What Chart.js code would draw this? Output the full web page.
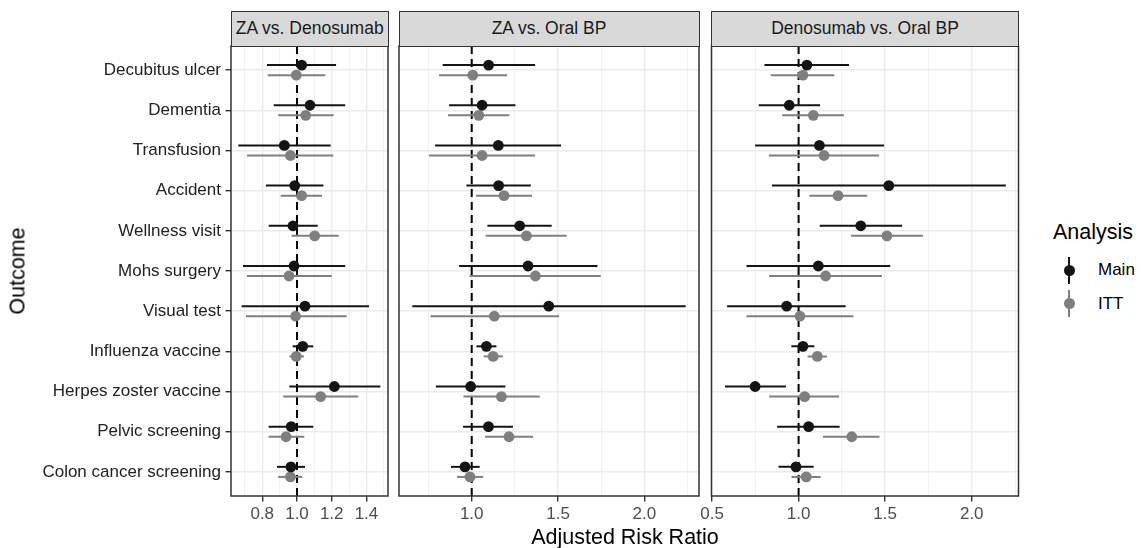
<!DOCTYPE html>
<html>
<head>
<meta charset="utf-8">
<script src="https://cdn.jsdelivr.net/npm/chart.js@4.4.1/dist/chart.umd.min.js"></script>
<style>
  body { margin: 0; background: #fff; font-family: "Liberation Sans", Arial, sans-serif; }
  #wrap { position: relative; width: 1144px; height: 548px; overflow: hidden; }
  canvas { position: absolute; top: 26px; }
  .strip { position: absolute; top: 11px; height: 35.5px; box-sizing: border-box;
           background: #d9d9d9; border: 1.5px solid #333; color: #1a1a1a; font-size: 17.5px;
           display: flex; align-items: center; justify-content: center; white-space: nowrap; }
  .lbl { position: absolute; white-space: nowrap; color: #000; }
  .key-line { position: absolute; width: 2px; height: 27px; }
  .key-dot { position: absolute; width: 11px; height: 11px; border-radius: 50%; }
</style>
</head>
<body>
<div id="wrap">
  <canvas id="c1" width="400" height="522" style="left:0px"></canvas>
  <canvas id="c2" width="320" height="522" style="left:390px"></canvas>
  <canvas id="c3" width="340" height="522" style="left:690px"></canvas>

  <div class="strip" style="left:231px;width:157.5px">ZA vs. Denosumab</div>
  <div class="strip" style="left:398.5px;width:301px">ZA vs. Oral BP</div>
  <div class="strip" style="left:711px;width:308px">Denosumab vs. Oral BP</div>

  <div class="lbl" style="left:18px;top:271px;font-size:21.5px;transform:translate(-50%,-50%) rotate(-90deg)">Outcome</div>
  <div class="lbl" style="left:625px;top:537px;font-size:21.5px;transform:translate(-50%,-50%)">Adjusted Risk Ratio</div>

  <div class="lbl" style="left:1053px;top:232px;font-size:21.5px;transform:translateY(-50%)">Analysis</div>
  <div class="key-line" style="left:1068px;top:256.5px;background:#141414"></div>
  <div class="key-dot" style="left:1063.5px;top:264.5px;background:#141414"></div>
  <div class="lbl" style="left:1098px;top:270px;font-size:17px;transform:translateY(-50%)">Main</div>
  <div class="key-line" style="left:1068px;top:290px;background:#7f7f7f"></div>
  <div class="key-dot" style="left:1063.5px;top:298px;background:#7f7f7f"></div>
  <div class="lbl" style="left:1098px;top:303.5px;font-size:17px;transform:translateY(-50%)">ITT</div>
</div>

<script>
const categories = ['Decubitus ulcer', 'Dementia', 'Transfusion', 'Accident', 'Wellness visit',
  'Mohs surgery', 'Visual test', 'Influenza vaccine', 'Herpes zoster vaccine',
  'Pelvic screening', 'Colon cancer screening'];

// ZA vs. Denosumab
const zdMainEst = [1.027, 1.075, 0.927, 0.987, 0.977, 0.983, 1.046, 1.033, 1.215, 0.967, 0.965];
const zdMainLo  = [0.827, 0.866, 0.662, 0.821, 0.837, 0.689, 0.681, 0.975, 0.956, 0.837, 0.885];
const zdMainHi  = [1.225, 1.278, 1.194, 1.152, 1.119, 1.278, 1.415, 1.094, 1.480, 1.094, 1.046];
const zdIttEst  = [0.996, 1.050, 0.962, 1.027, 1.102, 0.954, 0.992, 0.996, 1.136, 0.937, 0.962];
const zdIttLo   = [0.831, 0.892, 0.712, 0.906, 0.969, 0.712, 0.706, 0.956, 0.921, 0.837, 0.891];
const zdIttHi   = [1.163, 1.211, 1.209, 1.144, 1.240, 1.200, 1.286, 1.040, 1.353, 1.042, 1.031];

// ZA vs. Oral BP
const zoMainEst = [1.098, 1.060, 1.154, 1.156, 1.278, 1.326, 1.446, 1.085, 0.994, 1.097, 0.961];
const zoMainLo  = [0.832, 0.869, 0.788, 0.969, 1.091, 0.927, 0.656, 1.027, 0.792, 0.950, 0.880];
const zoMainHi  = [1.367, 1.253, 1.517, 1.342, 1.463, 1.728, 2.239, 1.143, 1.195, 1.239, 1.046];
const zoIttEst  = [1.006, 1.041, 1.060, 1.187, 1.317, 1.369, 1.131, 1.124, 1.172, 1.216, 0.990];
const zoIttLo   = [0.811, 0.863, 0.753, 1.025, 1.081, 0.988, 0.761, 1.069, 0.952, 1.077, 0.915];
const zoIttHi   = [1.205, 1.218, 1.367, 1.349, 1.550, 1.747, 1.506, 1.181, 1.394, 1.355, 1.066];

// Denosumab vs. Oral BP
const doMainEst = [1.048, 0.946, 1.120, 1.521, 1.359, 1.114, 0.931, 1.025, 0.749, 1.058, 0.985];
const doMainLo  = [0.803, 0.770, 0.749, 0.846, 1.122, 0.699, 0.587, 0.958, 0.575, 0.876, 0.884];
const doMainHi  = [1.291, 1.124, 1.494, 2.197, 1.598, 1.529, 1.272, 1.091, 0.927, 1.237, 1.087];
const doIttEst  = [1.025, 1.085, 1.147, 1.228, 1.510, 1.156, 1.008, 1.108, 1.035, 1.307, 1.044];
const doIttLo   = [0.839, 0.905, 0.828, 1.062, 1.303, 0.830, 0.699, 1.052, 0.830, 1.141, 0.959];
const doIttHi   = [1.207, 1.262, 1.465, 1.396, 1.718, 1.481, 1.317, 1.164, 1.234, 1.467, 1.127];

// x ticks (all grid lines) and the labelled ones
const zdTicks = [0.7, 0.8, 0.9, 1.0, 1.1, 1.2, 1.3, 1.4, 1.5];
const zdMajor = [0.8, 1.0, 1.2, 1.4];
const zoTicks = [0.75, 1.0, 1.25, 1.5, 1.75, 2.0, 2.25];
const zoMajor = [1.0, 1.5, 2.0];
const doTicks = [0.5, 0.75, 1.0, 1.25, 1.5, 1.75, 2.0, 2.25];
const doMajor = [0.5, 1.0, 1.5, 2.0];

const MAIN = '#141414';
const ITT = '#7f7f7f';
const GRID = '#ebebeb';

Chart.defaults.font.family = '"Liberation Sans", Arial, sans-serif';

const panelBorder = {
  id: 'panelBorder',
  afterDraw(chart) {
    const a = chart.chartArea, c = chart.ctx;
    c.save();
    c.strokeStyle = '#333';
    c.lineWidth = 1.5;
    c.strokeRect(a.left, a.top, a.right - a.left, a.bottom - a.top);
    c.restore();
  }
};

function isMajor(v, majors) {
  return majors.some(m => Math.abs(m - v) < 1e-6);
}

function makeChart(id, p) {
  const datasets = [];
  datasets.push({
    data: [{ x: 1, y: 0.4 }, { x: 1, y: 11.6 }],
    showLine: true, borderColor: '#000', borderWidth: 2, borderDash: [8, 5],
    pointRadius: 0, order: 10
  });
  categories.forEach((c, i) => {
    datasets.push({
      data: [{ x: p.mainLo[i], y: i + 1 - 0.125 }, { x: p.mainHi[i], y: i + 1 - 0.125 }],
      showLine: true, borderColor: MAIN, borderWidth: 2, pointRadius: 0, order: 5
    });
    datasets.push({
      data: [{ x: p.ittLo[i], y: i + 1 + 0.125 }, { x: p.ittHi[i], y: i + 1 + 0.125 }],
      showLine: true, borderColor: ITT, borderWidth: 2, pointRadius: 0, order: 5
    });
  });
  datasets.push({
    data: p.mainEst.map((v, i) => ({ x: v, y: i + 1 - 0.125 })),
    backgroundColor: MAIN, borderWidth: 0, pointRadius: 5.4, order: 1
  });
  datasets.push({
    data: p.ittEst.map((v, i) => ({ x: v, y: i + 1 + 0.125 })),
    backgroundColor: ITT, borderWidth: 0, pointRadius: 5.4, order: 2
  });

  return new Chart(document.getElementById(id), {
    type: 'scatter',
    data: { datasets },
    plugins: [panelBorder],
    options: {
      responsive: false,
      animation: false,
      devicePixelRatio: 1,
      events: [],
      layout: { padding: p.padding },
      plugins: { legend: { display: false }, tooltip: { enabled: false } },
      scales: {
        x: {
          type: 'linear',
          min: p.min, max: p.max,
          afterBuildTicks: s => { s.ticks = p.ticks.map(v => ({ value: v })); },
          afterFit: s => { s.height = 52; },
          border: { display: false },
          grid: {
            color: GRID,
            lineWidth: ctx => isMajor(ctx.tick.value, p.major) ? 1.4 : 0.7,
            tickColor: ctx => isMajor(ctx.tick.value, p.major) ? '#333' : 'rgba(0,0,0,0)',
            tickWidth: 1.4,
            tickLength: 5.5
          },
          ticks: {
            autoSkip: false, maxRotation: 0, padding: 3,
            color: '#4d4d4d', font: { size: 17 },
            callback: v => isMajor(v, p.major) ? v.toFixed(1) : ''
          }
        },
        y: {
          type: 'linear',
          reverse: true,
          min: 0.4, max: 11.6,
          afterBuildTicks: s => { s.ticks = categories.map((c, i) => ({ value: i + 1 })); },
          afterFit: s => { s.width = p.showY ? 231 : 0; },
          border: { display: false },
          grid: {
            color: GRID, lineWidth: 1.4,
            drawTicks: p.showY, tickColor: '#333', tickWidth: 1.4, tickLength: 5.5
          },
          ticks: {
            display: p.showY, autoSkip: false, padding: 4.5,
            color: '#222', font: { size: 17 },
            callback: v => categories[Math.round(v) - 1]
          }
        }
      }
    }
  });
}

// chart areas: top 46, bottom 496 (canvas top 26 -> padding top 20, x axis 52)
makeChart('c1', {
  mainEst: zdMainEst, mainLo: zdMainLo, mainHi: zdMainHi,
  ittEst: zdIttEst, ittLo: zdIttLo, ittHi: zdIttHi,
  ticks: zdTicks, major: zdMajor, min: 0.62, max: 1.524, showY: true,
  padding: { left: 0, top: 20, right: 12, bottom: 0 }
});
makeChart('c2', {
  mainEst: zoMainEst, mainLo: zoMainLo, mainHi: zoMainHi,
  ittEst: zoIttEst, ittLo: zoIttLo, ittHi: zoIttHi,
  ticks: zoTicks, major: zoMajor, min: 0.579, max: 2.316, showY: false,
  padding: { left: 9, top: 20, right: 11, bottom: 0 }
});
makeChart('c3', {
  mainEst: doMainEst, mainLo: doMainLo, mainHi: doMainHi,
  ittEst: doIttEst, ittLo: doIttLo, ittHi: doIttHi,
  ticks: doTicks, major: doMajor, min: 0.497, max: 2.27, showY: false,
  padding: { left: 21.5, top: 20, right: 11.5, bottom: 0 }
});
</script>
</body>
</html>
